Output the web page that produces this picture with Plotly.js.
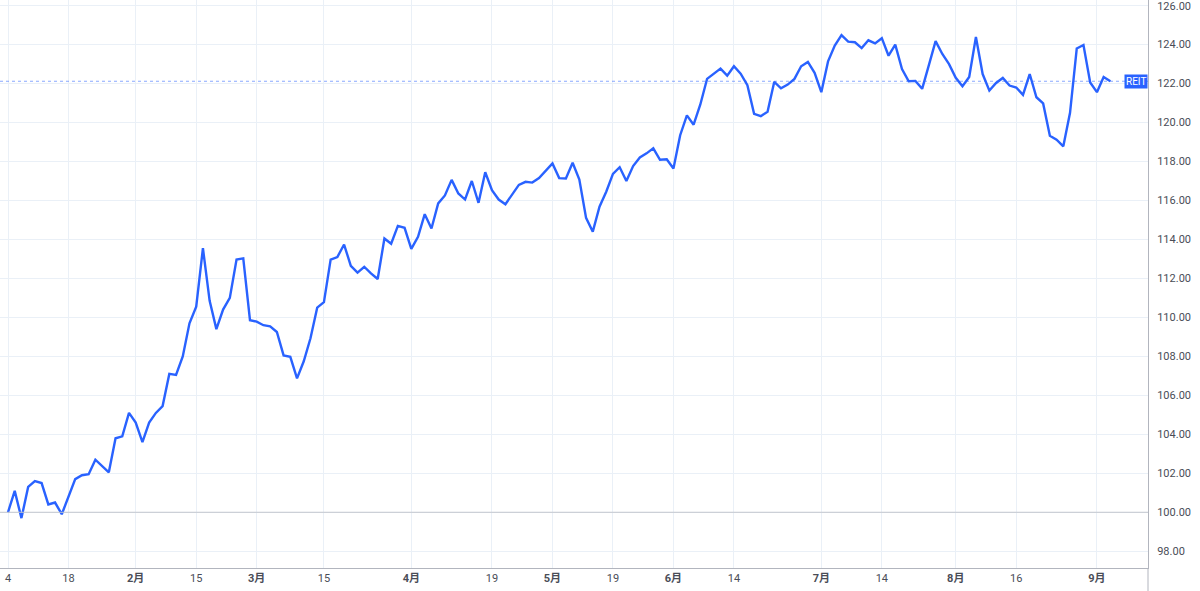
<!DOCTYPE html>
<html>
<head>
<meta charset="utf-8">
<script src="https://cdn.plot.ly/plotly-3.0.1.min.js"></script>
<style>
html,body{margin:0;padding:0;background:#ffffff;}
#chart{width:1200px;height:591px;}
</style>
</head>
<body>
<div id="chart"></div>
<script>
// Trading calendar (Japan, 2021): weekdays from start to end, minus exchange holidays
const startDate = "2021-01-04";
const endDate = "2021-09-03";
const holidays = ["2021-01-11","2021-02-11","2021-02-23","2021-04-29","2021-05-03","2021-05-04","2021-05-05","2021-07-22","2021-07-23","2021-08-09"];

// REIT series (rebased to 100), one value per trading day
const reitValues = [
  100.0,101.1,99.7,101.3,101.6,101.5,100.4,100.5,99.9,100.8,
  101.7,101.9,101.95,102.7,102.4,102.05,103.8,103.9,105.1,104.6,
  103.6,104.6,105.1,105.45,107.1,107.05,108.0,109.7,110.55,113.55,
  110.85,109.4,110.4,111.0,112.97,113.03,109.86,109.78,109.6,109.54,
  109.25,108.05,107.98,106.87,107.75,108.93,110.5,110.78,112.97,113.1,
  113.74,112.65,112.3,112.6,112.26,111.97,114.05,113.78,114.7,114.6,
  113.52,114.14,115.3,114.56,115.85,116.26,117.06,116.36,116.05,117.0,
  115.88,117.45,116.53,116.05,115.81,116.3,116.8,116.96,116.92,117.15,
  117.52,117.9,117.15,117.13,117.94,117.07,115.11,114.4,115.68,116.45,
  117.37,117.71,117.0,117.77,118.21,118.42,118.68,118.09,118.12,117.64,
  119.35,120.37,119.89,120.93,122.24,122.5,122.77,122.41,122.89,122.51,
  121.92,120.45,120.33,120.56,122.09,121.76,121.95,122.24,122.89,123.11,
  122.55,121.56,123.14,123.95,124.49,124.15,124.12,123.82,124.22,124.06,
  124.33,123.43,124.0,122.75,122.12,122.14,121.73,122.95,124.18,123.52,
  123.0,122.3,121.86,122.34,124.39,122.49,121.64,122.03,122.29,121.9,
  121.8,121.42,122.49,121.3,120.98,119.32,119.12,118.78,120.5,123.8,
  123.98,122.06,121.56,122.34,122.12
];

const seriesName = "REIT";
const baseValue = 100;

// Bottom-axis tick dates and labels
const tickDates = ["2021-01-04","2021-01-18","2021-02-01","2021-02-15","2021-03-01","2021-03-15","2021-04-01","2021-04-19","2021-05-06","2021-05-19","2021-06-01","2021-06-14","2021-07-01","2021-07-14","2021-08-02","2021-08-16","2021-09-01"];
const tickLabels = ["4","18","<b>2月</b>","15","<b>3月</b>","15","<b>4月</b>","19","<b>5月</b>","19","<b>6月</b>","14","<b>7月</b>","14","<b>8月</b>","16","<b>9月</b>"];

// Right-axis ticks
const yTicks = [98,100,102,104,106,108,110,112,114,116,118,120,122,124,126];

function tradingDays(s, e, hol){
  const out = [];
  const d = new Date(s + "T00:00:00Z");
  const end = new Date(e + "T00:00:00Z");
  while (d <= end){
    const wd = d.getUTCDay();
    const iso = d.toISOString().slice(0,10);
    if (wd !== 0 && wd !== 6 && hol.indexOf(iso) < 0) out.push(iso);
    d.setUTCDate(d.getUTCDate()+1);
  }
  return out;
}
const dates = tradingDays(startDate, endDate, holidays);
const lastValue = reitValues[reitValues.length-1];

const gridColor = "#eaf0f7";
const axisColor = "#b2b5be";
const textColor = "#4a4d57";
const lineColor = "#2962ff";

const trace = {
  type: "scatter",
  mode: "lines",
  x: dates,
  y: reitValues,
  name: seriesName,
  line: {color: lineColor, width: 2.4},
  hoverinfo: "x+y"
};

const layout = {
  width: 1200,
  height: 591,
  margin: {l: 0, r: 52, t: 0, b: 23, pad: 0},
  paper_bgcolor: "#ffffff",
  plot_bgcolor: "#ffffff",
  showlegend: false,
  font: {family: "Roboto, 'Noto Sans CJK JP', sans-serif", size: 11, color: textColor},
  xaxis: {
    type: "category",
    range: [-1.19, 169.6],
    tickmode: "array",
    tickvals: tickDates,
    ticktext: tickLabels,
    showgrid: true,
    gridcolor: gridColor,
    gridwidth: 1,
    showline: true,
    linecolor: axisColor,
    linewidth: 1,
    ticks: "",
    tickfont: {size: 11, color: textColor},
    zeroline: false,
    fixedrange: true
  },
  yaxis: {
    side: "right",
    range: [97.14, 126.29],
    tickmode: "array",
    tickvals: yTicks,
    tickformat: ".2f",
    showgrid: true,
    gridcolor: gridColor,
    gridwidth: 1,
    showline: true,
    linecolor: axisColor,
    linewidth: 1,
    ticks: "",
    ticklabelstandoff: 6,
    ticklabeloverflow: "allow",
    tickfont: {size: 11, color: textColor},
    zeroline: false,
    fixedrange: true
  },
  shapes: [
    {type: "line", xref: "paper", yref: "y", x0: 0, x1: 1, y0: baseValue, y1: baseValue,
     line: {color: "#c3c6ce", width: 1}},
    {type: "line", xref: "paper", yref: "y", x0: 0, x1: 1, y0: lastValue, y1: lastValue,
     line: {color: "rgba(41,98,255,0.55)", width: 1, dash: "dot"}},
    {type: "line", xref: "paper", yref: "paper", x0: 1, x1: 1, y0: -0.05, y1: 0,
     line: {color: axisColor, width: 1}}
  ],
  annotations: [
    {xref: "paper", yref: "y", x: 1, y: lastValue, xanchor: "right", yanchor: "middle",
     text: seriesName, showarrow: false, bgcolor: lineColor, borderpad: 1,
     font: {color: "#ffffff", size: 10, family: "Roboto, sans-serif"}}
  ]
};

Plotly.newPlot("chart", [trace], layout, {displayModeBar: false, staticPlot: true});
</script>
</body>
</html>
